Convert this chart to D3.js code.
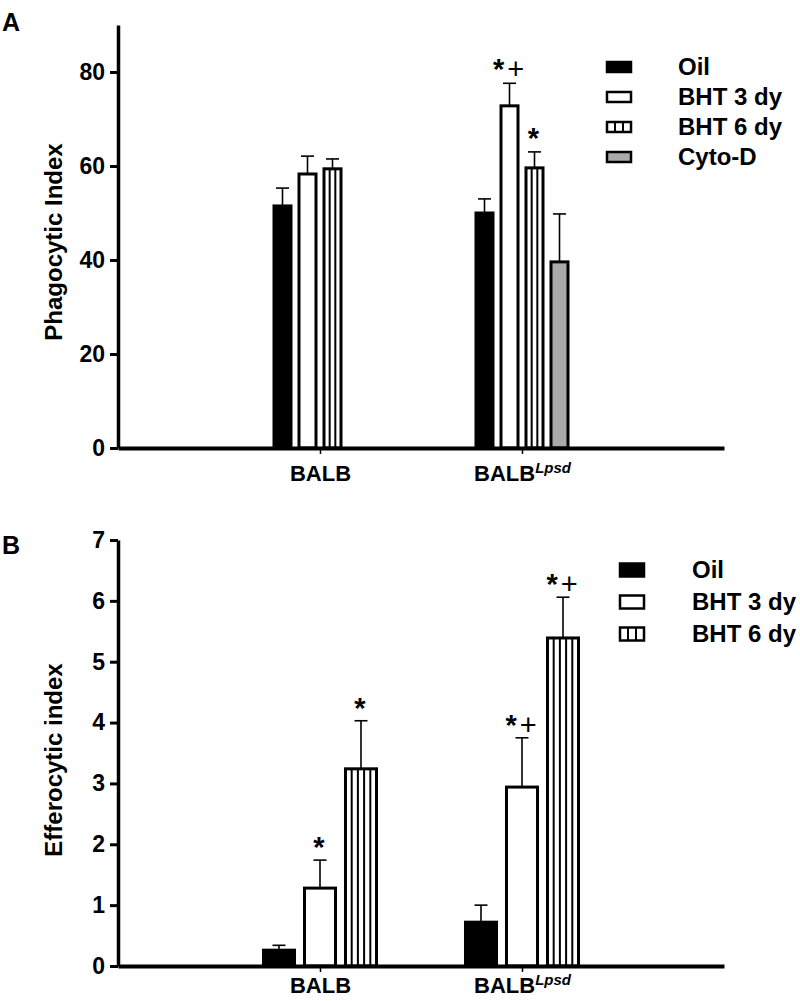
<!DOCTYPE html>
<html><head><meta charset="utf-8">
<script src="https://cdn.jsdelivr.net/npm/d3@7"></script>
<style>
body{margin:0;background:#fff;}
text{font-family:"Liberation Sans",Arial,sans-serif;font-weight:bold;fill:#000;}
</style></head><body>
<svg id="chart" width="800" height="1001"></svg>
<script>
// ---- data ----
const groups = ["BALB", "BALB^Lpsd"];
const seriesA = ["Oil", "BHT 3 dy", "BHT 6 dy", "Cyto-D"];
const phagoBALB = [51.5, 58.3, 59.4, null];
const phagoLpsd = [50.0, 72.8, 59.6, 39.6];
const phagoErrBALB = [3.8, 3.8, 2.1, null];
const phagoErrLpsd = [3.0, 4.8, 3.4, 10.2];
const phagoSigBALB = ["", "", "", ""];
const phagoSigLpsd = ["", "*+", "*", ""];
const ticksA = [0, 20, 40, 60, 80];

const seriesB = ["Oil", "BHT 3 dy", "BHT 6 dy"];
const effBALB = [0.26, 1.28, 3.24];
const effLpsd = [0.72, 2.94, 5.39];
const effErrBALB = [0.08, 0.46, 0.79];
const effErrLpsd = [0.28, 0.81, 0.67];
const effSigBALB = ["", "*", "*"];
const effSigLpsd = ["", "*+", "*+"];
const ticksB = [0, 1, 2, 3, 4, 5, 6, 7];

// ---- styles ----
const fills = {"Oil": "#000", "BHT 3 dy": "#fff", "BHT 6 dy": "#fff", "Cyto-D": "#aaaaaa"};
const hatched = {"BHT 6 dy": true};

const svg = d3.select("#chart");

function drawPanel(cfg) {
  const g = svg.append("g");
  const y = d3.scaleLinear().domain(cfg.yDomain).range([cfg.y0, cfg.yTop]);
  const x = d3.scalePoint().domain(["", ...groups, " "]).range([118, 724]);
  const inner = d3.scaleBand().domain(cfg.series).range(cfg.innerRange).paddingInner(cfg.pad).paddingOuter(cfg.pad / 2);

  const rows = [];
  groups.forEach((grp, gi) => {
    cfg.series.forEach((s, si) => {
      const v = cfg.values[gi][si];
      if (v == null) return;
      rows.push({grp, s, v, e: cfg.errs[gi][si], sig: cfg.sigs[gi][si]});
    });
  });

  // error bars
  rows.forEach(r => {
    const cx = x(r.grp) + inner(r.s) + inner.bandwidth() / 2;
    g.append("line").attr("x1", cx).attr("x2", cx).attr("y1", y(r.v)).attr("y2", y(r.v + r.e))
      .attr("stroke", "#000").attr("stroke-width", 1.6);
    g.append("line").attr("x1", cx - 6.5).attr("x2", cx + 6.5).attr("y1", y(r.v + r.e)).attr("y2", y(r.v + r.e))
      .attr("stroke", "#000").attr("stroke-width", 1.6);
    if (r.sig) {
      const t = g.append("text").attr("x", cx - 1).attr("y", y(r.v + r.e) - cfg.sigOffset)
        .attr("text-anchor", "middle").style("font-size", cfg.sigSize + "px");
      [...r.sig].forEach((ch, i) => {
        t.append("tspan").attr("dx", i ? 3 : 0).style("font-weight", ch === "+" ? "normal" : "bold").text(ch);
      });
    }
  });

  // bars
  rows.forEach(r => {
    const bx = x(r.grp) + inner(r.s), bw = inner.bandwidth();
    const top = y(r.v), h = cfg.y0 - top;
    g.append("rect").attr("x", bx + 1.5).attr("y", top).attr("width", bw - 3).attr("height", h)
      .attr("fill", fills[r.s]).attr("stroke", "#000").attr("stroke-width", 3);
    if (hatched[r.s]) {
      const n = Math.round(bw / 7);
      for (let k = 1; k < n; k++) {
        const lx = bx + 1.5 + (bw - 3) * k / n;
        g.append("line").attr("x1", lx).attr("x2", lx).attr("y1", top).attr("y2", cfg.y0)
          .attr("stroke", "#000").attr("stroke-width", 2);
      }
    }
  });

  // y axis
  const ya = g.append("g").attr("transform", "translate(118,0)")
    .call(d3.axisLeft(y).tickValues(cfg.ticks).tickSize(8).tickSizeOuter(0).tickPadding(5).tickFormat(d3.format("d")));
  ya.select(".domain").attr("stroke-width", 3.5);
  ya.selectAll(".tick line").attr("stroke-width", 3);
  ya.selectAll(".tick text").style("font-size", "23px").style("font-family", null).attr("fill", "#000");

  // x axis
  const xa = g.append("g").attr("transform", `translate(0,${cfg.y0})`)
    .call(d3.axisBottom(x).tickValues(groups).tickSize(6).tickSizeOuter(0).tickFormat(""));
  xa.select(".domain").attr("stroke-width", 4);
  xa.selectAll(".tick line").attr("stroke-width", 1.5);
  xa.selectAll(".tick").each(function(d) {
    const parts = d.split("^");
    const t = d3.select(this).append("text").attr("y", cfg.xLabelOffset).attr("text-anchor", "middle")
      .style("font-size", "22px").attr("fill", "#000");
    t.append("tspan").text(parts[0]);
    if (parts[1]) t.append("tspan").attr("dy", -8).style("font-size", "15px").style("font-style", "italic").text(parts[1]);
  });

  // y title
  g.append("text").attr("transform", `translate(${cfg.titleX},${cfg.titleY}) rotate(-90)`)
    .attr("text-anchor", "middle").style("font-size", "24px").text(cfg.title);
  // panel letter
  g.append("text").attr("x", 2).attr("y", cfg.letterY).style("font-size", "25px").text(cfg.letter);

  // legend
  cfg.series.forEach((s, i) => {
    const ly = cfg.legY + i * cfg.legStep;
    g.append("rect").attr("x", cfg.legX).attr("y", ly - cfg.swH / 2).attr("width", 24).attr("height", cfg.swH)
      .attr("fill", fills[s]).attr("stroke", "#000").attr("stroke-width", 2.5);
    if (hatched[s]) {
      for (let k = 1; k < 3; k++) {
        const lx = cfg.legX + 24 * k / 3;
        g.append("line").attr("x1", lx).attr("x2", lx).attr("y1", ly - cfg.swH / 2).attr("y2", ly + cfg.swH / 2)
          .attr("stroke", "#000").attr("stroke-width", 2);
      }
    }
    g.append("text").attr("x", cfg.legTextX).attr("y", ly + 8).style("font-size", "24px").text(s);
  });
}

drawPanel({
  series: seriesA, values: [phagoBALB, phagoLpsd], errs: [phagoErrBALB, phagoErrLpsd], sigs: [phagoSigBALB, phagoSigLpsd],
  yDomain: [0, 90], y0: 448, yTop: 25, ticks: ticksA, innerRange: [-50, 50], pad: 0.2,
  title: "Phagocytic Index", titleX: 62, titleY: 242, letter: "A", letterY: 31, xLabelOffset: 33,
  legX: 607, legTextX: 678, legY: 67, legStep: 30, swH: 10, sigOffset: 4, sigSize: 29
});
drawPanel({
  series: seriesB, values: [effBALB, effLpsd], errs: [effErrBALB, effErrLpsd], sigs: [effSigBALB, effSigLpsd],
  yDomain: [0, 7], y0: 966, yTop: 540, ticks: ticksB, innerRange: [-61.5, 61.5], pad: 0.17,
  title: "Efferocytic index", titleX: 62, titleY: 760, letter: "B", letterY: 554, xLabelOffset: 27,
  legX: 620, legTextX: 692, legY: 570, legStep: 32, swH: 13, sigOffset: 3, sigSize: 29
});
</script></body></html>
